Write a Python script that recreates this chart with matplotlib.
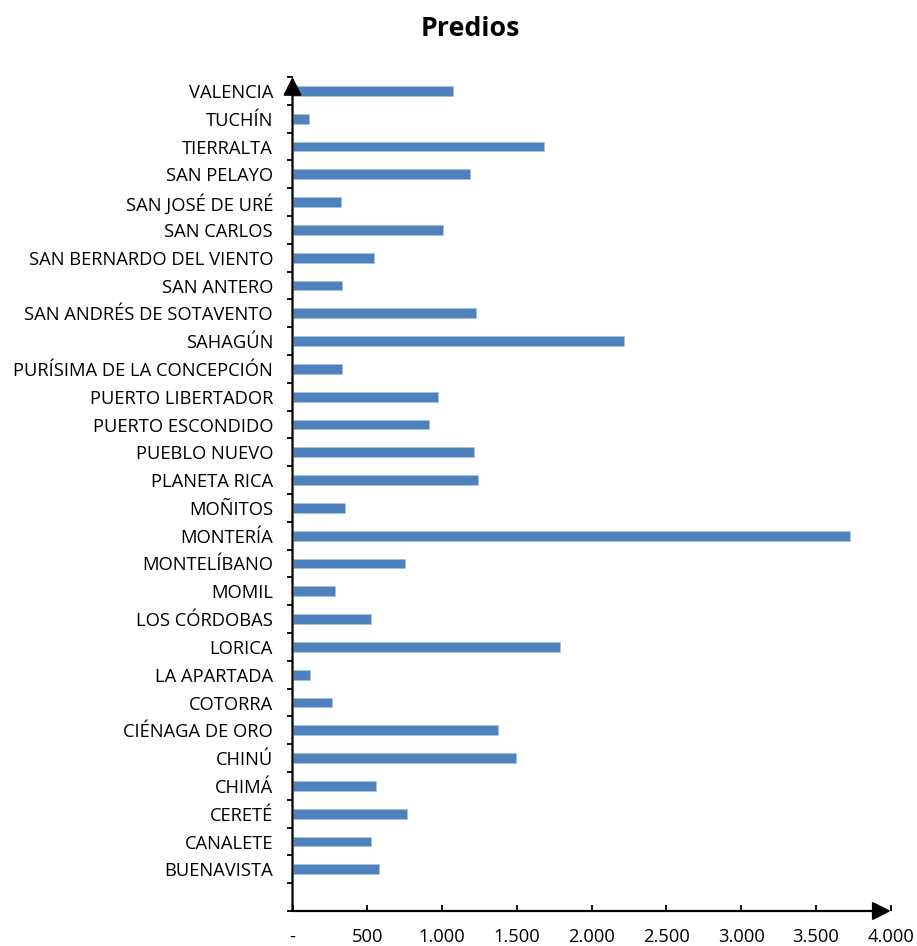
import matplotlib
matplotlib.use("Agg")
import matplotlib.pyplot as plt
import numpy as np
from matplotlib.ticker import FixedLocator

plt.rcParams['font.family'] = ['Open Sans', 'DejaVu Sans']

# Categories listed top -> bottom as shown in the chart
municipios = [
    "VALENCIA", "TUCHÍN", "TIERRALTA", "SAN PELAYO", "SAN JOSÉ DE URÉ",
    "SAN CARLOS", "SAN BERNARDO DEL VIENTO", "SAN ANTERO",
    "SAN ANDRÉS DE SOTAVENTO", "SAHAGÚN", "PURÍSIMA DE LA CONCEPCIÓN",
    "PUERTO LIBERTADOR", "PUERTO ESCONDIDO", "PUEBLO NUEVO", "PLANETA RICA",
    "MOÑITOS", "MONTERÍA", "MONTELÍBANO", "MOMIL", "LOS CÓRDOBAS", "LORICA",
    "LA APARTADA", "COTORRA", "CIÉNAGA DE ORO", "CHINÚ", "CHIMÁ", "CERETÉ",
    "CANALETE", "BUENAVISTA",
]
predios = [
    1075, 113, 1682, 1184, 321,
    1008, 543, 329,
    1228, 2218, 330,
    970, 915, 1212, 1239,
    349, 3728, 749, 282, 527, 1788,
    118, 262, 1377, 1497, 558, 766,
    527, 577,
]
x_ticks = [0, 500, 1000, 1500, 2000, 2500, 3000, 3500, 4000]
x_labels = ["-", "500", "1.000", "1.500", "2.000", "2.500", "3.000", "3.500", "4.000"]
title = "Predios"

W, H = 917, 946
fig = plt.figure(figsize=(W / 100, H / 100), dpi=100)
left, right, bottom, top = 292.5, 890.7, 911, 77
ax = fig.add_axes([left / W, 1 - bottom / H, (right - left) / W, (bottom - top) / H])

n = len(municipios)
ypos = np.arange(n)[::-1]  # top category at highest position
ax.barh(ypos, predios, height=0.35, color="#4F81BD", edgecolor="#A7BFDE", linewidth=0.4)

ax.set_xlim(0, 4000)
ax.set_ylim(-1.5, n - 0.5)

ax.set_yticks(ypos)
ax.set_yticklabels(municipios)
ax.yaxis.set_minor_locator(FixedLocator(np.arange(-1.5, n, 1.0)))
ax.tick_params(axis="y", which="major", length=0, pad=14, labelsize=13.2)
ax.tick_params(axis="y", which="minor", length=4.5, width=1.3, direction="out", color="black")

ax.set_xticks(x_ticks)
ax.set_xticklabels(x_labels)
ax.tick_params(axis="x", which="major", length=4.5, width=1.3, direction="in", pad=12, labelsize=13.2)

for s in ax.spines.values():
    s.set_visible(False)

arrow_style = "-|>,head_length=0.55,head_width=0.28"
ax.annotate("", xy=(0, 1), xytext=(0, 0), xycoords="axes fraction",
            arrowprops=dict(arrowstyle=arrow_style, color="black", lw=1.6,
                            mutation_scale=20, shrinkA=0, shrinkB=0))
ax.annotate("", xy=(1, 0), xytext=(0, 0), xycoords="axes fraction",
            arrowprops=dict(arrowstyle=arrow_style, color="black", lw=1.6,
                            mutation_scale=20, shrinkA=0, shrinkB=0))

fig.text(470 / W, 1 - 29 / H, title, ha="center", va="center",
         fontsize=19.3, fontweight="bold")

fig.savefig("out.png", dpi=100)
